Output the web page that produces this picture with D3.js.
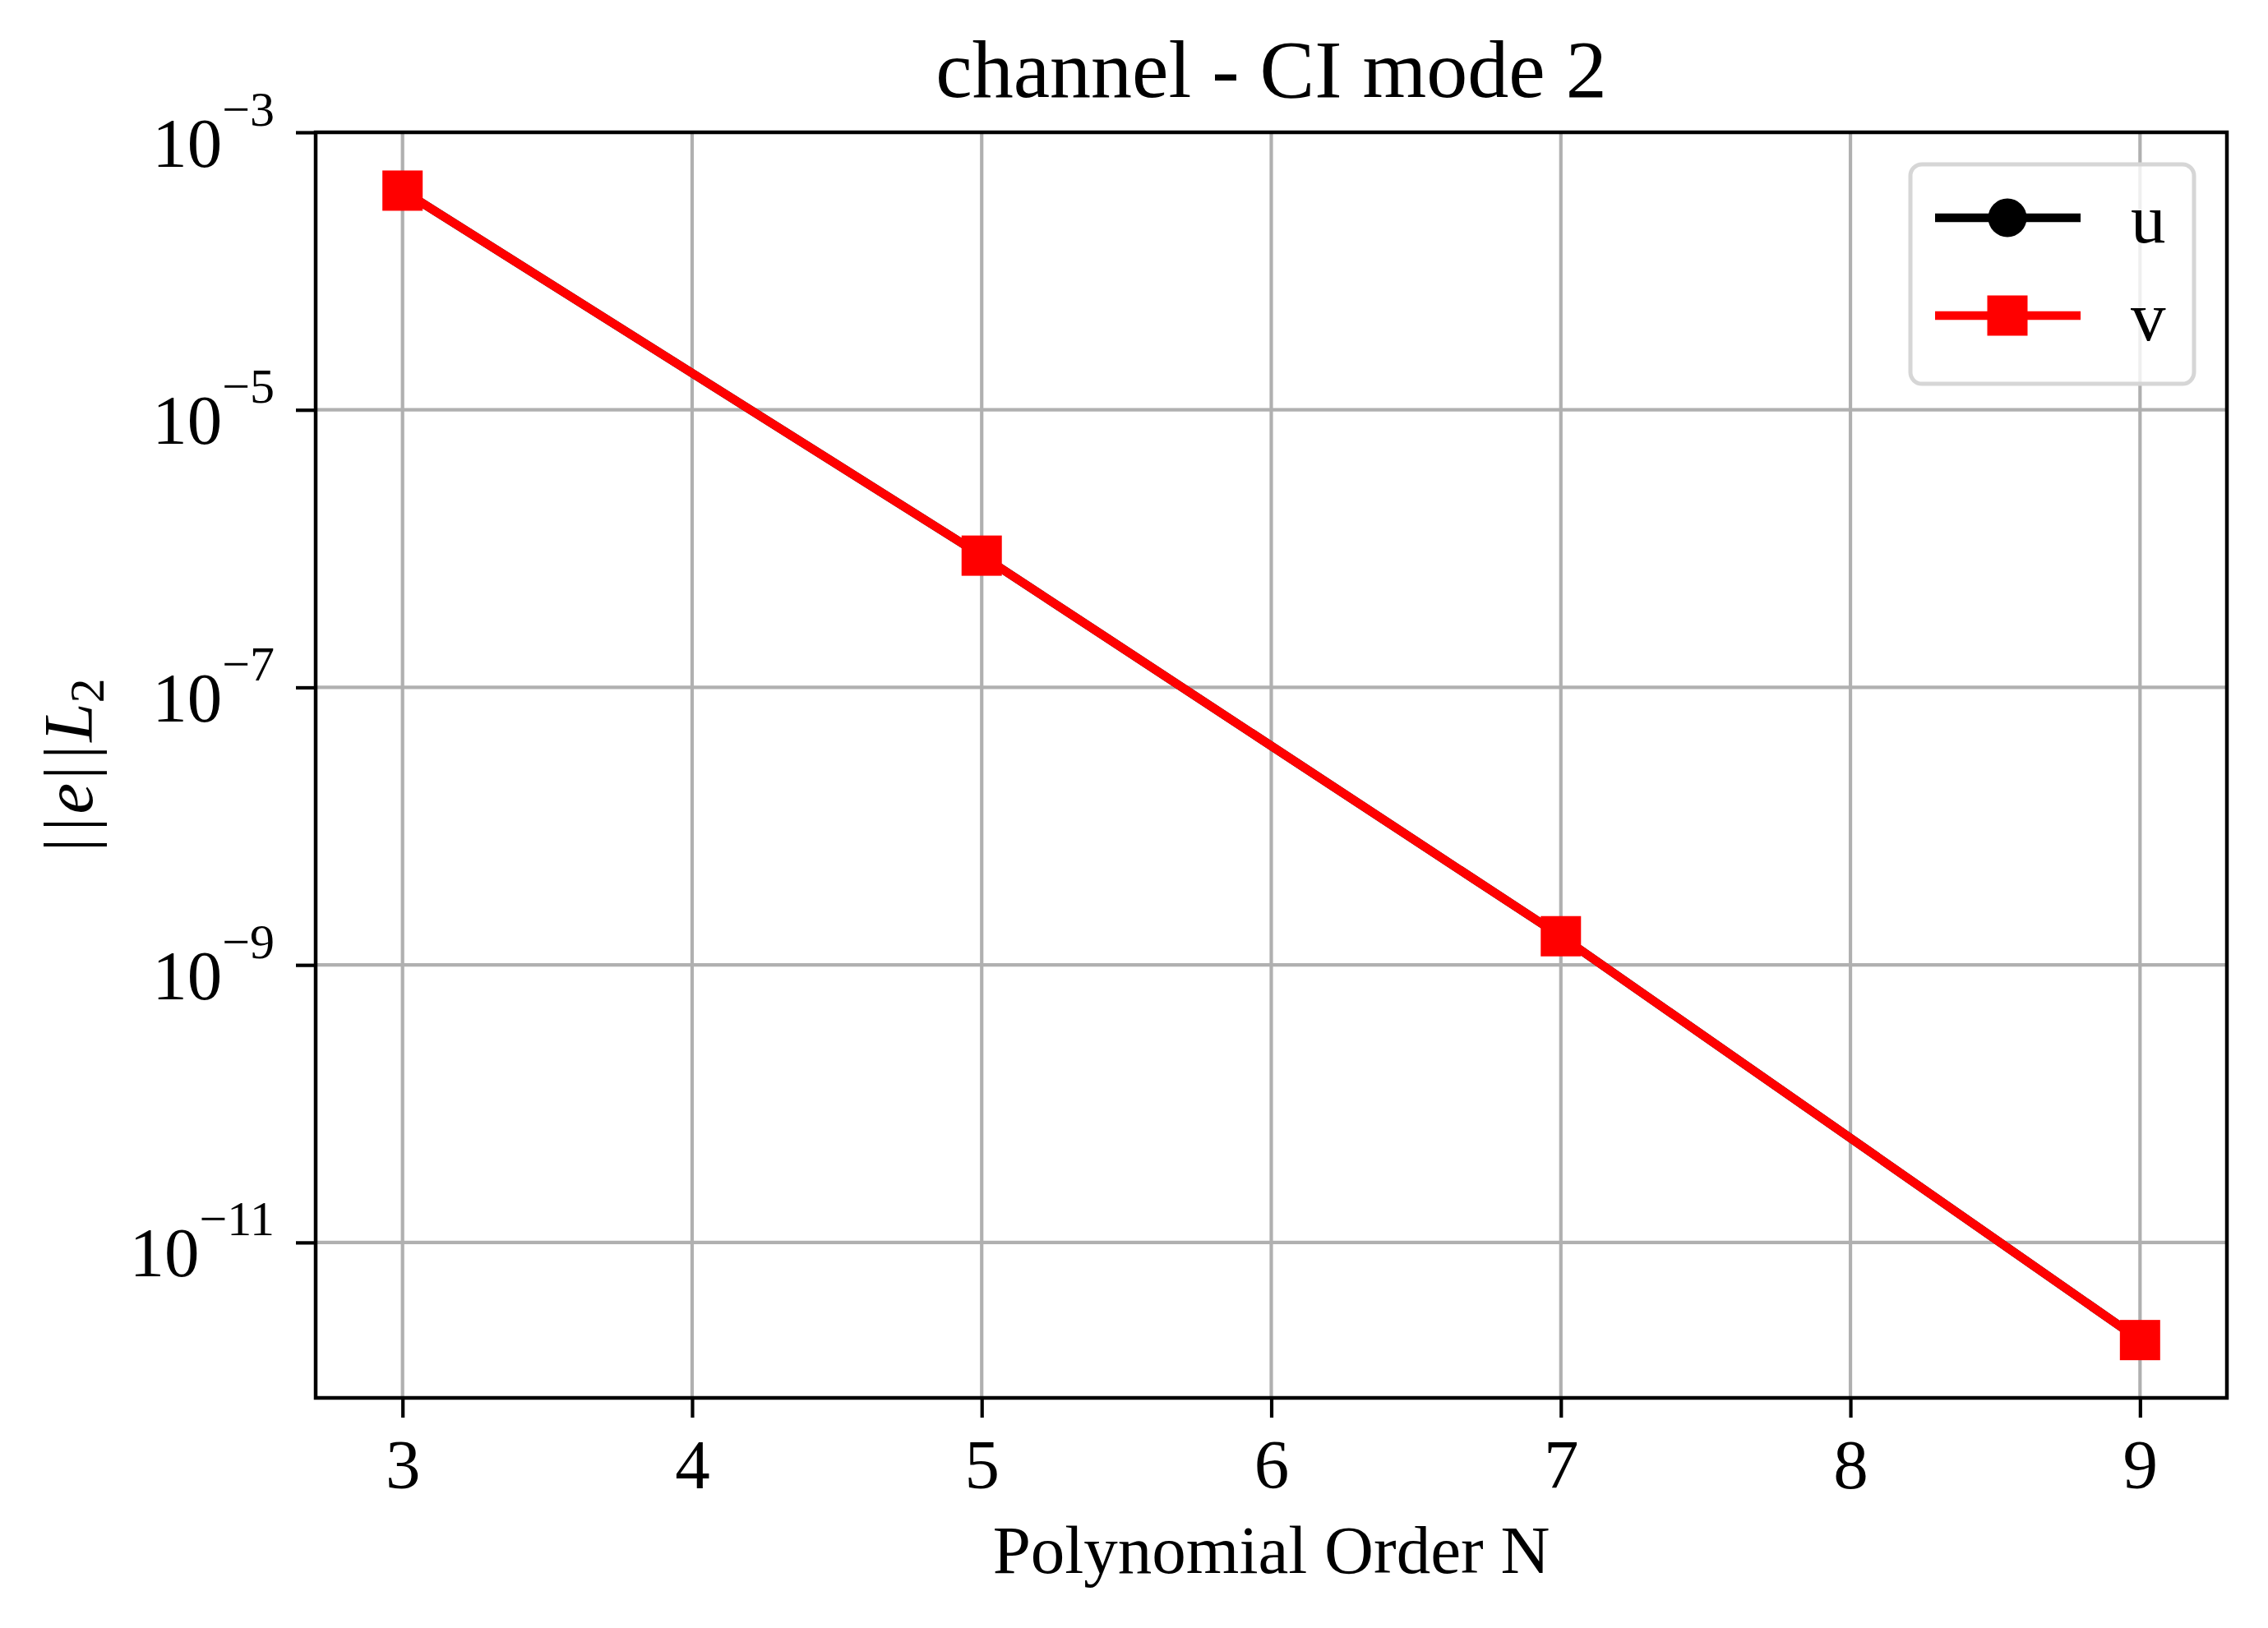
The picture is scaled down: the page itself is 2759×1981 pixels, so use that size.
<!DOCTYPE html>
<html>
<head>
<meta charset="utf-8">
<script src="https://cdn.jsdelivr.net/npm/d3@7"></script>
<style>
  html, body { margin: 0; padding: 0; background: #fff; }
  svg { display: block; font-family: "Liberation Serif", "Times New Roman", serif; }
</style>
</head>
<body>
<div id="chart"></div>
<script>
// Data
const orders   = [3, 5, 7, 9];
const uErr     = [3.8e-4, 8.9e-7, 1.61e-9, 1.98e-12];
const vErr     = [3.8e-4, 8.9e-7, 1.61e-9, 1.98e-12];
const xTicks   = [3, 4, 5, 6, 7, 8, 9];
const yTickExp = [-3, -5, -7, -9, -11];
const seriesNames = ['u', 'v'];

const W = 2759, H = 1981;
const margin = { top: 161, right: 50, bottom: 280, left: 384 };
const innerW = W - margin.left - margin.right;   // 2325
const innerH = H - margin.top - margin.bottom;   // 1540

const x = d3.scaleLinear().domain([2.7, 9.3]).range([0, innerW]);
const y = d3.scaleLog().domain([1e-3, Math.pow(10, -12.12)]).range([0, innerH]);

const svg = d3.select('#chart').append('svg').attr('width', W).attr('height', H);
const g = svg.append('g').attr('transform', `translate(${margin.left},${margin.top})`);

const GRID = '#b0b0b0';
const FS = 85;

// grid
g.append('g').selectAll('line').data(xTicks).join('line')
  .attr('x1', d => x(d)).attr('x2', d => x(d))
  .attr('y1', 0).attr('y2', innerH)
  .attr('stroke', GRID).attr('stroke-width', 4.2);
g.append('g').selectAll('line').data(yTickExp).join('line')
  .attr('x1', 0).attr('x2', innerW)
  .attr('y1', d => y(Math.pow(10, d))).attr('y2', d => y(Math.pow(10, d)))
  .attr('stroke', GRID).attr('stroke-width', 4.2);

// x axis
const xAxis = g.append('g').attr('transform', `translate(0,${innerH})`)
  .call(d3.axisBottom(x).tickValues(xTicks).tickSize(24).tickPadding(10).tickFormat(d3.format('d')));
xAxis.select('.domain').remove();
xAxis.selectAll('.tick line').attr('stroke', '#000').attr('stroke-width', 4.2);
xAxis.selectAll('.tick text').attr('fill', '#000').attr('font-size', FS)
  .attr('font-family', '"Liberation Serif", serif')
  .attr('dy', null).attr('y', 110);

// y axis with 10^n labels
const yAxis = g.append('g')
  .call(d3.axisLeft(y).tickValues(yTickExp.map(e => Math.pow(10, e))).tickSize(24).tickFormat(''));
yAxis.select('.domain').remove();
yAxis.selectAll('.tick line').attr('stroke', '#000').attr('stroke-width', 4.2);
yAxis.selectAll('.tick').each(function(d) {
  const e = Math.round(Math.log10(d));
  const t = d3.select(this).select('text')
    .attr('x', -50).attr('y', 41).attr('dy', null)
    .attr('text-anchor', 'end').attr('fill', '#000')
    .attr('font-family', '"Liberation Serif", serif').attr('font-size', FS);
  t.text(null);
  t.append('tspan').text('10');
  t.append('tspan').attr('font-size', 60).attr('dy', -50).text('\u2212' + Math.abs(e));
});

// series
const seriesData = [
  { name: seriesNames[0], vals: uErr, color: '#000000', marker: 'circle' },
  { name: seriesNames[1], vals: vErr, color: '#ff0000', marker: 'square' },
];
const line = d3.line().x(d => x(d[0])).y(d => y(d[1]));
const MS = 49;

seriesData.forEach(s => {
  const pts = orders.map((o, i) => [o, s.vals[i]]);
  g.append('path').datum(pts).attr('d', line)
    .attr('fill', 'none').attr('stroke', s.color).attr('stroke-width', 10.5)
    .attr('stroke-linejoin', 'round');
  if (s.marker === 'circle') {
    g.append('g').selectAll('circle').data(pts).join('circle')
      .attr('cx', d => x(d[0])).attr('cy', d => y(d[1])).attr('r', MS / 2 - 1)
      .attr('fill', s.color);
  } else {
    g.append('g').selectAll('rect').data(pts).join('rect')
      .attr('x', d => x(d[0]) - MS / 2).attr('y', d => y(d[1]) - MS / 2)
      .attr('width', MS).attr('height', MS).attr('fill', s.color);
  }
});

// frame
g.append('rect').attr('x', 0).attr('y', 0).attr('width', innerW).attr('height', innerH)
  .attr('fill', 'none').attr('stroke', '#000').attr('stroke-width', 4.5);

// legend
const lg = g.append('g').attr('transform', `translate(${2324 - margin.left},${200 - margin.top})`);
lg.append('rect').attr('x', 0).attr('y', 0).attr('width', 345).attr('height', 267)
  .attr('rx', 14).attr('fill', '#fff').attr('fill-opacity', 0.8)
  .attr('stroke', '#d6d6d6').attr('stroke-width', 5);
seriesData.forEach((s, i) => {
  const cy = 65 + i * 119;
  lg.append('line').attr('x1', 30).attr('x2', 207).attr('y1', cy).attr('y2', cy)
    .attr('stroke', s.color).attr('stroke-width', 10.5);
  if (s.marker === 'circle') {
    lg.append('circle').attr('cx', 118).attr('cy', cy).attr('r', MS / 2 - 1).attr('fill', s.color);
  } else {
    lg.append('rect').attr('x', 118 - MS / 2).attr('y', cy - MS / 2)
      .attr('width', MS).attr('height', MS).attr('fill', s.color);
  }
  lg.append('text').attr('x', 268).attr('y', cy + 30).attr('font-size', FS)
    .attr('fill', '#000').text(s.name);
});

// title
svg.append('text').attr('x', margin.left + innerW / 2).attr('y', 118)
  .attr('text-anchor', 'middle').attr('font-size', 100).attr('fill', '#000')
  .text('channel - CI mode 2');

// x label
svg.append('text').attr('x', margin.left + innerW / 2).attr('y', 1914)
  .attr('text-anchor', 'middle').attr('font-size', 83).attr('fill', '#000')
  .text('Polynomial Order N');

// y label ||e||L2
const yl = svg.append('text')
  .attr('transform', `translate(112,${margin.top + innerH / 2}) rotate(-90)`)
  .attr('text-anchor', 'middle').attr('font-size', FS).attr('fill', '#000');
yl.append('tspan').text('|');
yl.append('tspan').attr('dx', 8).text('|');
yl.append('tspan').attr('dx', 4).attr('font-style', 'italic').text('e');
yl.append('tspan').attr('dx', 4).text('|');
yl.append('tspan').attr('dx', 8).text('|');
yl.append('tspan').attr('dx', 4).attr('font-style', 'italic').text('L');
yl.append('tspan').attr('font-size', 60).attr('dy', 14).text('2');
</script>
</body>
</html>
